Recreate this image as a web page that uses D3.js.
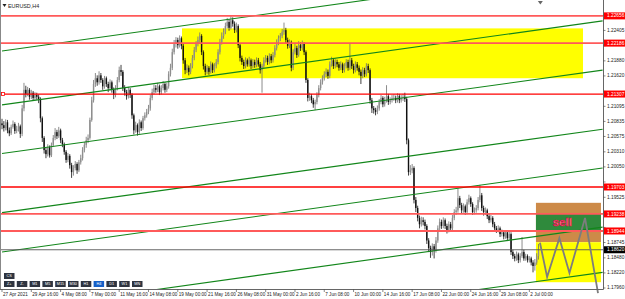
<!DOCTYPE html>
<html>
<head>
<meta charset="utf-8">
<script src="https://cdn.jsdelivr.net/npm/d3@7"></script>
<style>
  body { margin: 0; background: #fff; }
  svg { display: block; font-family: "Liberation Sans", Arial, sans-serif; }
</style>
</head>
<body>
<div id="chart"></div>
<script>
// EURUSD H4, 27 Apr 2021 - 2 Jul 2021
const symbol = "EURUSD,H4";
const timeLabels = ["27 Apr 2021", "29 Apr 16:00", "4 May 08:00", "7 May 00:00", "11 May 16:00",
  "14 May 08:00", "19 May 00:00", "21 May 16:00", "26 May 08:00", "31 May 00:00", "2 Jun 16:00",
  "7 Jun 08:00", "10 Jun 00:00", "14 Jun 16:00", "17 Jun 08:00", "22 Jun 00:00", "24 Jun 16:00",
  "29 Jun 08:00", "2 Jul 00:00"];
const barsPerLabel = 16;
const priceTicks = [1.17960, 1.18220, 1.18480, 1.18745, 1.19005, 1.19265, 1.19525, 1.19790, 1.20050,
  1.20310, 1.20575, 1.20835, 1.21095, 1.21355, 1.21620, 1.21880, 1.22140, 1.22405, 1.22665];

const opens = [1.2080,
  1.2077,1.2072,1.2082,1.2068,1.2063,1.2074,1.2079,1.2067,1.2070,1.2075,1.2062,
  1.2106,1.2138,
  1.2131,1.2138,1.2126,1.2133,1.2124,1.2129,1.2126,1.2122,
  1.2089,1.2055,
  1.2034,1.2027,1.2039,1.2025,
  1.2043,1.2055,1.2065,1.2058,1.2068,1.2051,1.2044,
  1.2031,1.2017,1.2024,1.2008,
  1.1996,1.2003,1.2010,1.1999,1.2013,1.2020,
  1.2034,1.2043,1.2051,1.2055,
  1.2086,1.2120,1.2148,1.2158,
  1.2151,1.2163,1.2155,1.2144,1.2158,1.2148,1.2141,1.2151,
  1.2138,1.2129,1.2141,1.2155,
  1.2172,1.2169,
  1.2141,1.2134,1.2127,1.2138,1.2129,
  1.2094,1.2068,
  1.2077,1.2065,1.2082,1.2072,
  1.2089,1.2094,1.2100,1.2106,
  1.2124,1.2134,1.2141,
  1.2138,1.2144,1.2134,1.2141,1.2148,1.2138,1.2144,
  1.2165,1.2176,
  1.2203,1.2217,1.2224,1.2215,1.2227,1.2214,
  1.2189,1.2172,
  1.2176,1.2169,1.2179,
  1.2193,1.2207,1.2217,1.2224,1.2231,
  1.2203,1.2179,1.2169,
  1.2176,1.2169,1.2182,1.2172,1.2179,1.2186,
  1.2203,1.2220,1.2231,1.2238,
  1.2248,1.2255,1.2245,1.2258,1.2252,1.2241,1.2248,
  1.2215,1.2193,
  1.2186,1.2179,1.2189,1.2182,1.2189,1.2179,1.2186,1.2181,1.2189,
  1.2182,1.2172,1.2179,
  1.2189,1.2193,1.2186,1.2196,1.2189,1.2198,
  1.2210,1.2220,1.2227,1.2231,1.2238,1.2241,
  1.2224,1.2214,1.2220,
  1.2176,
  1.2203,1.2210,1.2198,1.2215,
  1.2210,1.2217,1.2203,
  1.2155,1.2124,
  1.2127,1.2120,1.2113,1.2117,
  1.2129,1.2141,1.2151,1.2158,1.2165,1.2169,1.2162,
  1.2182,1.2189,1.2179,1.2186,1.2182,
  1.2176,1.2182,1.2172,1.2179,1.2186,1.2176,
  1.2189,
  1.2179,1.2172,1.2182,
  1.2176,1.2169,1.2162,1.2172,1.2165,1.2179,1.2172,
  1.2120,1.2106,
  1.2103,1.2100,1.2106,
  1.2117,1.2124,1.2113,1.2120,1.2127,1.2117,1.2120,1.2124,
  1.2124,1.2120,1.2127,1.2120,1.2124,1.2126,1.2122,
  1.2051,1.1996,
  1.1999,1.2003,
  1.1948,1.1934,
  1.1917,1.1906,1.1913,
  1.1910,1.1903,
  1.1878,1.1865,1.1858,
  1.1868,1.1861,1.1878,
  1.1899,1.1910,1.1903,1.1913,
  1.1903,1.1896,1.1906,1.1899,
  1.1917,1.1927,1.1930,
  1.1951,1.1939,
  1.1930,1.1937,1.1927,
  1.1944,1.1951,1.1941,
  1.1927,1.1930,1.1934,
  1.1948,1.1956,1.1934,
  1.1927,1.1930,
  1.1920,1.1913,1.1917,1.1906,
  1.1899,1.1896,1.1899,
  1.1889,1.1892,1.1885,1.1892,1.1882,1.1889,
  1.1858,1.1851,1.1847,
  1.1854,1.1844,1.1851,1.1858,
  1.1847,1.1851,1.1844,1.1847,1.1840,
  1.1834,1.1840,1.1851];

const closes = [
  1.2077,1.2072,1.2082,1.2068,1.2063,1.2074,1.2079,1.2067,1.2070,1.2075,1.2062,
  1.2106,1.2138,
  1.2131,1.2138,1.2126,1.2133,1.2124,1.2129,1.2126,1.2122,
  1.2089,1.2055,
  1.2034,1.2027,1.2039,1.2025,
  1.2043,1.2055,1.2065,1.2058,1.2068,1.2051,1.2044,
  1.2031,1.2017,1.2024,1.2008,
  1.1996,1.2003,1.2010,1.1999,1.2013,1.2020,
  1.2034,1.2043,1.2051,1.2055,
  1.2086,1.2120,1.2148,1.2158,
  1.2151,1.2163,1.2155,1.2144,1.2158,1.2148,1.2141,1.2151,
  1.2138,1.2129,1.2141,1.2155,
  1.2172,1.2169,
  1.2141,1.2134,1.2127,1.2138,1.2129,
  1.2094,1.2068,
  1.2077,1.2065,1.2082,1.2072,
  1.2089,1.2094,1.2100,1.2106,
  1.2124,1.2134,1.2141,
  1.2138,1.2144,1.2134,1.2141,1.2148,1.2138,1.2144,
  1.2165,1.2176,
  1.2203,1.2217,1.2224,1.2215,1.2227,1.2214,
  1.2189,1.2172,
  1.2176,1.2169,1.2179,
  1.2193,1.2207,1.2217,1.2224,1.2231,
  1.2203,1.2179,1.2169,
  1.2176,1.2169,1.2182,1.2172,1.2179,1.2186,
  1.2203,1.2220,1.2231,1.2238,
  1.2248,1.2255,1.2245,1.2258,1.2252,1.2241,1.2248,
  1.2215,1.2193,
  1.2186,1.2179,1.2189,1.2182,1.2189,1.2179,1.2186,1.2181,1.2189,
  1.2182,1.2172,1.2179,
  1.2189,1.2193,1.2186,1.2196,1.2189,1.2198,
  1.2210,1.2220,1.2227,1.2231,1.2238,1.2241,
  1.2224,1.2214,1.2220,
  1.2176,
  1.2203,1.2210,1.2198,1.2215,
  1.2210,1.2217,1.2203,
  1.2155,1.2124,
  1.2127,1.2120,1.2113,1.2117,
  1.2129,1.2141,1.2151,1.2158,1.2165,1.2169,1.2162,
  1.2182,1.2189,1.2179,1.2186,1.2182,
  1.2176,1.2182,1.2172,1.2179,1.2186,1.2176,
  1.2189,
  1.2179,1.2172,1.2182,
  1.2176,1.2169,1.2162,1.2172,1.2165,1.2179,1.2172,
  1.2120,1.2106,
  1.2103,1.2100,1.2106,
  1.2117,1.2124,1.2113,1.2120,1.2127,1.2117,1.2120,1.2124,
  1.2124,1.2120,1.2127,1.2120,1.2124,1.2126,1.2122,
  1.2051,1.1996,
  1.1999,1.2003,
  1.1948,1.1934,
  1.1917,1.1906,1.1913,
  1.1910,1.1903,
  1.1878,1.1865,1.1858,
  1.1868,1.1861,1.1878,
  1.1899,1.1910,1.1903,1.1913,
  1.1903,1.1896,1.1906,1.1899,
  1.1917,1.1927,1.1930,
  1.1951,1.1939,
  1.1930,1.1937,1.1927,
  1.1944,1.1951,1.1941,
  1.1927,1.1930,1.1934,
  1.1948,1.1956,1.1934,
  1.1927,1.1930,
  1.1920,1.1913,1.1917,1.1906,
  1.1899,1.1896,1.1899,
  1.1889,1.1892,1.1885,1.1892,1.1882,1.1889,
  1.1858,1.1851,1.1847,
  1.1854,1.1844,1.1851,1.1858,
  1.1847,1.1851,1.1844,1.1847,1.1840,
  1.1834,1.1840,1.1851,1.1861];

const highs = [
  1.2088,1.2084,1.2087,1.2086,1.2073,1.2078,1.2085,1.2082,1.2076,1.2081,1.2078,
  1.2112,1.2150,
  1.2145,1.2143,1.2141,1.2138,1.2136,1.2134,1.2133,1.2130,
  1.2125,1.2092,
  1.2058,1.2039,1.2044,1.2042,
  1.2047,1.2060,1.2072,1.2069,1.2074,1.2071,1.2055,
  1.2047,1.2034,1.2029,1.2027,
  1.2012,1.2008,1.2015,1.2013,1.2017,1.2026,
  1.2039,1.2048,1.2057,1.2061,
  1.2090,1.2126,1.2155,1.2167,
  1.2163,1.2170,1.2167,1.2158,1.2162,1.2161,1.2152,1.2156,
  1.2154,1.2142,1.2146,1.2160,
  1.2178,1.2181,
  1.2172,1.2146,1.2138,1.2143,1.2141,
  1.2132,1.2097,
  1.2083,1.2080,1.2087,1.2085,
  1.2093,1.2099,1.2105,1.2112,
  1.2129,1.2140,1.2147,
  1.2146,1.2150,1.2147,1.2146,1.2153,1.2151,1.2150,
  1.2170,1.2183,
  1.2209,1.2224,1.2229,1.2228,1.2232,1.2230,
  1.2217,1.2193,
  1.2182,1.2180,1.2184,
  1.2198,1.2212,1.2222,1.2230,1.2237,
  1.2234,1.2206,1.2183,
  1.2181,1.2179,1.2187,1.2185,1.2184,1.2191,
  1.2208,1.2226,1.2237,1.2244,
  1.2254,1.2262,1.2260,1.2265,1.2263,1.2256,1.2254,
  1.2251,1.2218,
  1.2197,1.2190,1.2194,1.2192,1.2195,1.2192,1.2191,1.2190,1.2194,
  1.2193,1.2186,1.2183,
  1.2194,1.2198,1.2197,1.2201,1.2200,1.2203,
  1.2215,1.2225,1.2232,1.2236,1.2243,1.2254,
  1.2245,1.2228,1.2225,
  1.2223,
  1.2208,1.2219,1.2214,1.2222,
  1.2220,1.2223,1.2220,
  1.2206,1.2158,
  1.2133,1.2131,1.2124,1.2121,
  1.2134,1.2146,1.2156,1.2163,1.2170,1.2175,1.2173,
  1.2187,1.2195,1.2193,1.2191,1.2190,
  1.2186,1.2187,1.2185,1.2184,1.2191,1.2190,
  1.2219,
  1.2193,1.2183,1.2187,
  1.2186,1.2180,1.2173,1.2177,1.2176,1.2184,1.2183,
  1.2175,1.2124,
  1.2110,1.2107,1.2111,
  1.2122,1.2129,1.2127,1.2126,1.2146,1.2131,1.2125,1.2129,
  1.2130,1.2128,1.2132,1.2131,1.2129,1.2131,1.2133,
  1.2126,1.2054,
  1.2008,1.2010,
  1.2006,1.1953,
  1.1938,1.1921,1.1919,
  1.1918,1.1914,
  1.1906,1.1882,1.1869,
  1.1873,1.1872,1.1884,
  1.1904,1.1916,1.1914,1.1918,
  1.1916,1.1907,1.1911,1.1910,
  1.1922,1.1932,1.1936,
  1.1968,1.1955,
  1.1943,1.1942,1.1940,
  1.1949,1.1957,1.1954,
  1.1944,1.1935,1.1939,
  1.1953,1.1974,1.1960,
  1.1938,1.1935,
  1.1933,1.1924,1.1922,1.1920,
  1.1910,1.1903,1.1904,
  1.1902,1.1897,1.1895,1.1896,1.1895,1.1893,
  1.1892,1.1862,1.1855,
  1.1859,1.1857,1.1856,1.1884,
  1.1862,1.1855,1.1854,1.1851,1.1850,
  1.1844,1.1846,1.1856,1.1872];

const lows = [
  1.2070,1.2066,1.2068,1.2063,1.2058,1.2060,1.2071,1.2062,1.2063,1.2066,1.2055,
  1.2058,1.2101,
  1.2125,1.2127,1.2121,1.2122,1.2119,1.2120,1.2121,1.2115,
  1.2082,1.2048,
  1.2028,1.2020,1.2023,1.2021,
  1.2022,1.2040,1.2051,1.2053,1.2055,1.2046,1.2039,
  1.2026,1.2012,1.2013,1.2002,
  1.1986,1.1990,1.1999,1.1993,1.1996,1.2009,
  1.2016,1.2030,1.2038,1.2046,
  1.2052,1.2083,1.2116,1.2143,
  1.2145,1.2147,1.2150,1.2138,1.2140,1.2143,1.2134,1.2137,
  1.2133,1.2122,1.2125,1.2137,
  1.2151,1.2162,
  1.2136,1.2128,1.2121,1.2123,1.2124,
  1.2088,1.2061,
  1.2064,1.2059,1.2062,1.2067,
  1.2069,1.2085,1.2090,1.2096,
  1.2102,1.2120,1.2130,
  1.2133,1.2134,1.2129,1.2130,1.2137,1.2133,1.2134,
  1.2140,1.2161,
  1.2172,1.2199,1.2211,1.2209,1.2211,1.2208,
  1.2183,1.2165,
  1.2167,1.2163,1.2165,
  1.2175,1.2189,1.2203,1.2213,1.2219,
  1.2198,1.2173,1.2163,
  1.2165,1.2164,1.2166,1.2167,1.2168,1.2175,
  1.2182,1.2199,1.2216,1.2226,
  1.2234,1.2244,1.2240,1.2242,1.2247,1.2236,1.2237,
  1.2210,1.2187,
  1.2181,1.2174,1.2175,1.2178,1.2178,1.2174,1.2175,1.2176,1.2177,
  1.2178,1.2166,1.2133,
  1.2175,1.2185,1.2181,1.2182,1.2184,1.2185,
  1.2194,1.2206,1.2215,1.2222,1.2227,1.2233,
  1.2219,1.2209,1.2210,
  1.2170,
  1.2172,1.2199,1.2193,1.2195,
  1.2205,1.2206,1.2198,
  1.2150,1.2118,
  1.2119,1.2115,1.2107,1.2103,
  1.2113,1.2125,1.2137,1.2147,1.2154,1.2160,1.2157,
  1.2158,1.2178,1.2174,1.2175,1.2177,
  1.2171,1.2172,1.2167,1.2168,1.2175,1.2171,
  1.2172,
  1.2174,1.2166,1.2168,
  1.2171,1.2163,1.2148,1.2158,1.2160,1.2161,1.2167,
  1.2114,1.2098,
  1.2097,1.2094,1.2096,
  1.2102,1.2113,1.2108,1.2109,1.2116,1.2112,1.2113,1.2116,
  1.2119,1.2115,1.2116,1.2115,1.2116,1.2119,1.2117,
  1.2044,1.1990,
  1.1991,1.1994,
  1.1942,1.1927,
  1.1911,1.1899,1.1902,
  1.1904,1.1897,
  1.1872,1.1858,1.1848,
  1.1852,1.1847,1.1857,
  1.1874,1.1895,1.1898,1.1899,
  1.1898,1.1890,1.1892,1.1893,
  1.1895,1.1913,1.1922,
  1.1926,1.1934,
  1.1925,1.1926,1.1922,
  1.1923,1.1940,1.1936,
  1.1922,1.1923,1.1926,
  1.1930,1.1944,1.1929,
  1.1921,1.1922,
  1.1915,1.1908,1.1909,1.1901,
  1.1894,1.1891,1.1892,
  1.1884,1.1885,1.1880,1.1881,1.1877,1.1879,
  1.1853,1.1846,1.1842,
  1.1843,1.1839,1.1840,1.1848,
  1.1843,1.1843,1.1840,1.1840,1.1835,
  1.1823,1.1826,1.1836,1.1845];

// horizontal levels and current bid
const levelPrices = [1.22656, 1.22186, 1.21307, 1.19703, 1.19238, 1.18944];
const levelLabels = ["1.22656", "1.22186", "1.21307", "1.19703", "1.19238", "1.18944"];
const bidPrice = 1.18620;

// parallel trend lines: price at bar 0 and at bar 328
const trendStart = [1.2205, 1.2112, 1.2028, 1.1926, 1.1858, 1.1756, 1.1679];
const trendEnd   = [1.2350, 1.2257, 1.2172, 1.2070, 1.2003, 1.1901, 1.1823];

// rectangles: [fromBar, toBar, topPrice, bottomPrice]
const rangeBox   = [98.3, 317.3, 1.2244, 1.2158];
const sellOuter  = [291.6, 327.1, 1.1943, 1.1875];
const sellZone   = [291.6, 327.1, 1.19238, 1.18944];
const targetBox  = [291.6, 327.1, 1.1875, 1.1806];

// projected path
const pathBars   = [293.8, 297.7, 304.4, 309.9, 318.4, 325.5];
const pathPrices = [1.1874, 1.1815, 1.1882, 1.1822, 1.1917, 1.1787];

const periods = ["Z+", "Z-", "M1", "M5", "M15", "M30", "H1", "H4", "D1", "W1", "MN"];

const W = 625, H = 299;
const plotRight = 603, plotBottom = 289;

const svg = d3.select('#chart')
    .append('svg')
    .attr('width', W)
    .attr('height', H);

const x = d3.scaleLinear().domain([0, 328]).range([2, 602.6]);
const y = d3.scaleLinear().domain([1.1796, 1.2293]).range([288, 0]);

svg.append('defs').append('clipPath').attr('id', 'plot')
    .append('rect').attr('x', 0).attr('y', 0).attr('width', plotRight).attr('height', plotBottom);

const plot = svg.append('g').attr('clip-path', 'url(#plot)');

function box(g, r, fill) {
    g.append('rect')
        .attr('x', x(r[0]))
        .attr('y', y(r[2]))
        .attr('width', x(r[1]) - x(r[0]))
        .attr('height', y(r[3]) - y(r[2]))
        .attr('fill', fill);
}

box(plot, rangeBox, '#ffff00');
box(plot, sellOuter, '#cd8a48');
box(plot, sellZone, '#2f8a3c');
box(plot, targetBox, '#ffff00');

// candles
const bars = closes.map((c, i) => ({ i, o: opens[i], h: highs[i], l: lows[i], c }));
plot.selectAll('line.wick')
    .data(bars)
    .join('line')
    .attr('class', 'wick')
    .attr('x1', d => x(d.i)).attr('x2', d => x(d.i))
    .attr('y1', d => y(d.h)).attr('y2', d => y(d.l))
    .attr('stroke', d => d.c >= d.o ? '#6e6e6e' : '#111')
    .attr('stroke-width', 0.8);
plot.selectAll('rect.body')
    .data(bars)
    .join('rect')
    .attr('class', 'body')
    .attr('x', d => x(d.i) - 0.7)
    .attr('width', 1.4)
    .attr('y', d => y(Math.max(d.o, d.c)))
    .attr('height', d => Math.max(0.7, Math.abs(y(d.o) - y(d.c))))
    .attr('fill', d => d.c >= d.o ? '#8e8e8e' : '#111');

// trend lines
plot.selectAll('line.trend')
    .data(trendStart)
    .join('line')
    .attr('class', 'trend')
    .attr('x1', x(0)).attr('x2', x(328))
    .attr('y1', d => y(d))
    .attr('y2', (d, i) => y(trendEnd[i]))
    .attr('stroke', '#12861a')
    .attr('stroke-width', 1.1);

// horizontal levels
plot.selectAll('line.level')
    .data(levelPrices)
    .join('line')
    .attr('class', 'level')
    .attr('x1', 0).attr('x2', plotRight)
    .attr('y1', d => y(d)).attr('y2', d => y(d))
    .attr('stroke', (d, i) => (i < 2 || i > 3) ? '#ff5a5a' : '#ff0000')
    .attr('stroke-width', (d, i) => (i < 2 || i > 3) ? 1.8 : 1.3);

plot.append('line')
    .attr('x1', 0).attr('x2', plotRight)
    .attr('y1', y(bidPrice)).attr('y2', y(bidPrice))
    .attr('stroke', '#555')
    .attr('stroke-width', 0.9);

// anchor square on the selected level
plot.append('rect')
    .attr('x', 1.5).attr('y', y(levelPrices[2]) - 1.5)
    .attr('width', 3).attr('height', 3)
    .attr('fill', '#fff').attr('stroke', '#ff0000').attr('stroke-width', 0.8);

// projected path
svg.append('path')
    .datum(pathBars.map((b, i) => [b, pathPrices[i]]))
    .attr('d', d3.line().x(d => x(d[0])).y(d => y(d[1])))
    .attr('fill', 'none')
    .attr('stroke', '#7d7d7d')
    .attr('stroke-width', 1.8);

svg.append('text')
    .attr('x', x(306)).attr('y', y(1.1909))
    .attr('text-anchor', 'middle')
    .attr('dominant-baseline', 'middle')
    .attr('font-size', 11.5)
    .attr('font-weight', 'bold')
    .attr('fill', '#ff7d9c')
    .attr('stroke', '#d8003a')
    .attr('stroke-width', 0.6)
    .text('sell');

// frame
svg.append('line').attr('x1', 0.5).attr('x2', 0.5).attr('y1', 0).attr('y2', plotBottom)
    .attr('stroke', '#888').attr('stroke-width', 1);
svg.append('line').attr('x1', plotRight + 0.5).attr('x2', plotRight + 0.5).attr('y1', 0).attr('y2', plotBottom + 0.5)
    .attr('stroke', '#666').attr('stroke-width', 1);
svg.append('line').attr('x1', 0).attr('x2', plotRight + 0.5).attr('y1', plotBottom + 0.5).attr('y2', plotBottom + 0.5)
    .attr('stroke', '#666').attr('stroke-width', 1);

// price axis; ticks hidden behind price tags are left out
const tagPrices = levelPrices.concat([bidPrice]);
const visibleTicks = priceTicks.filter(t => tagPrices.every(p => Math.abs(y(t) - y(p)) > 7));
const yAxis = svg.append('g');
yAxis.selectAll('line')
    .data(priceTicks)
    .join('line')
    .attr('x1', plotRight).attr('x2', plotRight + 2.5)
    .attr('y1', d => y(d)).attr('y2', d => y(d))
    .attr('stroke', '#555').attr('stroke-width', 0.7);
yAxis.selectAll('text')
    .data(visibleTicks)
    .join('text')
    .attr('x', plotRight + 4)
    .attr('y', d => y(d))
    .attr('dominant-baseline', 'middle')
    .attr('font-size', 4.8)
    .attr('fill', '#222')
    .text(d => d.toFixed(5));

const tags = svg.append('g');
levelPrices.forEach((p, i) => {
    tags.append('rect')
        .attr('x', plotRight + 1).attr('y', y(p) - 3.5)
        .attr('width', 21).attr('height', 7)
        .attr('fill', '#ff0000');
    tags.append('text')
        .attr('x', plotRight + 4).attr('y', y(p) + 0.3)
        .attr('dominant-baseline', 'middle')
        .attr('font-size', 4.8).attr('fill', '#fff')
        .text(levelLabels[i]);
});
tags.append('rect')
    .attr('x', plotRight + 1).attr('y', y(bidPrice) - 3.5)
    .attr('width', 21).attr('height', 7)
    .attr('fill', '#000');
tags.append('text')
    .attr('x', plotRight + 4).attr('y', y(bidPrice) + 0.3)
    .attr('dominant-baseline', 'middle')
    .attr('font-size', 4.8).attr('fill', '#fff')
    .text(bidPrice.toFixed(5));

// time axis
const xAxis = svg.append('g');
xAxis.selectAll('line')
    .data(timeLabels)
    .join('line')
    .attr('x1', (d, i) => x(i * barsPerLabel)).attr('x2', (d, i) => x(i * barsPerLabel))
    .attr('y1', plotBottom).attr('y2', plotBottom + 3)
    .attr('stroke', '#555').attr('stroke-width', 0.7);
xAxis.selectAll('text')
    .data(timeLabels)
    .join('text')
    .attr('x', (d, i) => x(i * barsPerLabel) + 1)
    .attr('y', 296)
    .attr('font-size', 4.6)
    .attr('fill', '#222')
    .text(d => d);

// title
svg.append('path')
    .attr('d', 'M2.5,4 L6.5,4 L4.5,7 Z')
    .attr('fill', '#222');
svg.append('text')
    .attr('x', 8).attr('y', 7.6)
    .attr('font-size', 5.4)
    .attr('fill', '#222')
    .text(symbol);
// chart shift marker
svg.append('path')
    .attr('d', `M${x(294) - 2.5},1 L${x(294) + 2.5},1 L${x(294)},4.5 Z`)
    .attr('fill', '#666');

// period buttons
const btn = svg.append('g').attr('font-size', 3.8).attr('text-anchor', 'middle');
btn.append('rect').attr('x', 4).attr('y', 273).attr('width', 10.5).attr('height', 6).attr('fill', '#2e3440');
btn.append('text').attr('x', 9.25).attr('y', 277.3).attr('fill', '#fff').text('CS');
btn.selectAll('g.p')
    .data(periods)
    .join('g')
    .attr('class', 'p')
    .each(function (d, i) {
        const gx = 4 + i * 12.8;
        d3.select(this).append('rect')
            .attr('x', gx).attr('y', 281).attr('width', 10.5).attr('height', 6)
            .attr('fill', d === 'H4' ? '#1560c8' : '#2e3440');
        d3.select(this).append('text')
            .attr('x', gx + 5.25).attr('y', 285.3)
            .attr('fill', '#fff')
            .text(d);
    });
</script>
</body>
</html>
